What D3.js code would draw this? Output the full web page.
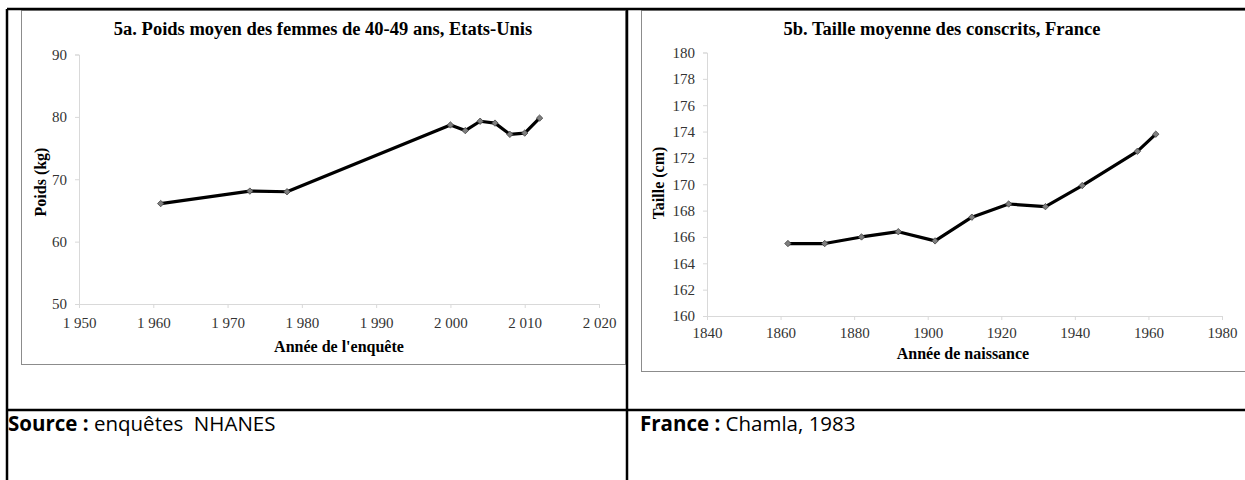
<!DOCTYPE html>
<html>
<head>
<meta charset="utf-8">
<script src="https://cdn.jsdelivr.net/npm/d3@7"></script>
<style>
  body { margin: 0; background: #fff; }
  svg { display: block; }
  .titre { font-family: "Liberation Serif", "Times New Roman", serif; font-weight: bold; font-size: 18.5px; fill: #000; }
  .axe { font-family: "Liberation Serif", "Times New Roman", serif; font-weight: bold; font-size: 16px; fill: #000; }
  .note { font-family: "Open Sans", sans-serif; font-size: 20.5px; fill: #000; }
</style>
</head>
<body>
<svg id="fig" width="1245" height="480"></svg>
<script>
// 5a : poids moyen des femmes de 40-49 ans (NHANES)
var poidsAnnees = [1961, 1973, 1978, 2000, 2002, 2004, 2006, 2008, 2010, 2012];
var poidsKg = [66.1, 68.1, 68.0, 78.7, 77.8, 79.3, 79.0, 77.2, 77.4, 79.8];
var poidsTicksX = [1950, 1960, 1970, 1980, 1990, 2000, 2010, 2020];
var poidsTicksY = [50, 60, 70, 80, 90];

// 5b : taille moyenne des conscrits (Chamla, 1983)
var tailleAnnees = [1862, 1872, 1882, 1892, 1902, 1912, 1922, 1932, 1942, 1957, 1962];
var tailleCm = [165.5, 165.5, 166.0, 166.4, 165.7, 167.5, 168.5, 168.3, 169.9, 172.5, 173.8];
var tailleTicksX = [1840, 1860, 1880, 1900, 1920, 1940, 1960, 1980];
var tailleTicksY = [160, 162, 164, 166, 168, 170, 172, 174, 176, 178, 180];

var fr = d3.formatLocale({decimal: ",", thousands: "\u00a0", grouping: [3], currency: ["", " €"]});

var svg = d3.select("#fig");
svg.append("rect").attr("width", 1245).attr("height", 480).attr("fill", "#fff");

function drawPanel(p) {
	var g = svg.append("g");

	// cadre du graphique
	g.append("rect")
		.attr("x", p.frame[0] + 0.5).attr("y", p.frame[1] + 0.5)
		.attr("width", p.frame[2]).attr("height", p.frame[3])
		.attr("fill", "#fff").attr("stroke", "#8c8c8c").attr("stroke-width", 1);

	var x = d3.scaleLinear().domain(p.xDomain).range([p.left, p.right]);
	var y = d3.scaleLinear().domain(p.yDomain).range([p.bottom, p.top]);

	var xAxis = g.append("g")
		.attr("transform", "translate(0," + p.bottom + ")")
		.call(d3.axisBottom(x).tickValues(p.xTicks).tickSize(4).tickPadding(p.xPad).tickFormat(p.xFmt));
	var yAxis = g.append("g")
		.attr("transform", "translate(" + p.left + ",0)")
		.call(d3.axisLeft(y).tickValues(p.yTicks).tickSize(4).tickPadding(8).tickFormat(d3.format("d")));
	[xAxis, yAxis].forEach(function(a) {
		a.attr("font-family", "Liberation Serif, Times New Roman, serif").attr("font-size", 15);
		a.select(".domain").attr("stroke", "#d9d9d9");
		a.selectAll(".tick line").attr("stroke", "#d9d9d9");
		a.selectAll(".tick text").attr("fill", "#333");
	});

	var pts = p.xs.map(function(d, i) { return [d, p.ys[i]]; });
	g.append("path")
		.datum(pts)
		.attr("fill", "none")
		.attr("stroke", "#000")
		.attr("stroke-width", 3.2)
		.attr("stroke-linejoin", "round")
		.attr("d", d3.line().x(function(d) { return x(d[0]); }).y(function(d) { return y(d[1]); }));

	g.selectAll(".pt").data(pts).enter().append("path")
		.attr("class", "pt")
		.attr("transform", function(d) { return "translate(" + x(d[0]) + "," + y(d[1]) + ")"; })
		.attr("d", "M0,-3.2L3.2,0L0,3.2L-3.2,0Z")
		.attr("fill", "#7f7f7f")
		.attr("stroke", "#404040")
		.attr("stroke-width", 0.8);

	g.append("text").attr("class", "titre")
		.attr("x", p.titleX).attr("y", 35)
		.attr("text-anchor", "middle")
		.text(p.title);
	g.append("text").attr("class", "axe")
		.attr("x", p.xLabelX).attr("y", p.xLabelY)
		.attr("text-anchor", "middle")
		.text(p.xLabel);
	g.append("text").attr("class", "axe")
		.attr("transform", "translate(" + p.yLabelX + "," + p.yLabelY + ") rotate(-90)")
		.attr("text-anchor", "middle")
		.text(p.yLabel);
}

drawPanel({
	frame: [21, 10, 604, 354],
	left: 79, right: 599, top: 54.5, bottom: 304,
	xDomain: [1950, 2020], yDomain: [50, 90],
	xTicks: poidsTicksX, yTicks: poidsTicksY, xPad: 9,
	xFmt: fr.format(","),
	xs: poidsAnnees, ys: poidsKg,
	title: "5a. Poids moyen des femmes de 40-49 ans, Etats-Unis", titleX: 323,
	xLabel: "Année de l'enquête", xLabelX: 339, xLabelY: 352,
	yLabel: "Poids (kg)", yLabelX: 46, yLabelY: 182
});

drawPanel({
	frame: [641, 10, 620, 361],
	left: 707, right: 1222, top: 52.5, bottom: 316,
	xDomain: [1840, 1980], yDomain: [160, 180],
	xTicks: tailleTicksX, yTicks: tailleTicksY, xPad: 7,
	xFmt: d3.format("d"),
	xs: tailleAnnees, ys: tailleCm,
	title: "5b. Taille moyenne des conscrits, France", titleX: 942,
	xLabel: "Année de naissance", xLabelX: 963, xLabelY: 359,
	yLabel: "Taille (cm)", yLabelX: 664, yLabelY: 183
});

// lignes du tableau
var traits = [
	[7, 9, 1245, 9],
	[7, 9, 7, 480],
	[627, 9, 627, 480],
	[7, 410, 1245, 410]
];
svg.selectAll(".trait").data(traits).enter().append("line")
	.attr("class", "trait")
	.attr("x1", function(d) { return d[0]; }).attr("y1", function(d) { return d[1]; })
	.attr("x2", function(d) { return d[2]; }).attr("y2", function(d) { return d[3]; })
	.attr("stroke", "#000").attr("stroke-width", 2.5);

var n1 = svg.append("text").attr("class", "note").attr("x", 8).attr("y", 431);
n1.append("tspan").attr("font-weight", "bold").text("Source : ");
n1.append("tspan").style("white-space", "pre").text("enquêtes  NHANES");

var n2 = svg.append("text").attr("class", "note").attr("x", 640).attr("y", 431);
n2.append("tspan").attr("font-weight", "bold").text("France : ");
n2.append("tspan").text("Chamla, 1983");
</script>
</body>
</html>
